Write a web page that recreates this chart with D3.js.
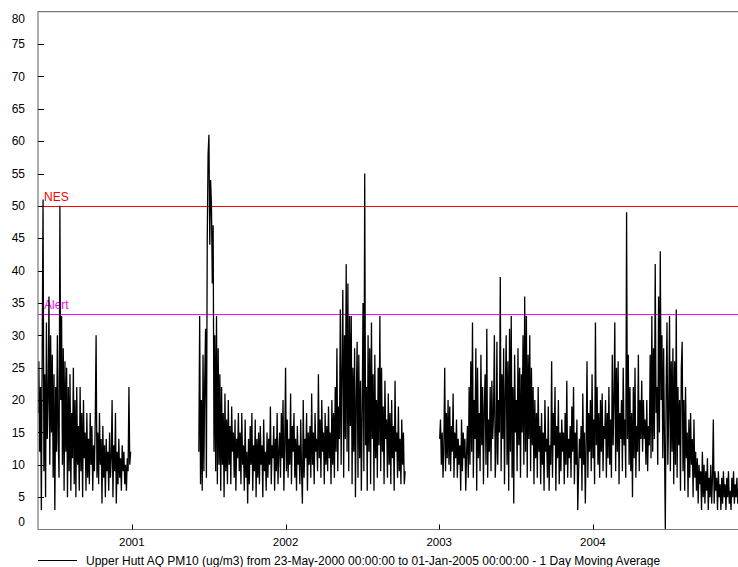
<!DOCTYPE html>
<html><head><meta charset="utf-8">
<script src="https://cdn.jsdelivr.net/npm/d3@7"></script>
<style>
html,body{margin:0;padding:0;background:#fff;}
svg{display:block;font-family:"Liberation Sans",Arial,sans-serif;}
</style></head>
<body>
<svg id="chart" width="738" height="567"></svg>
<script>
// ---- data (1 day moving average PM10, ug/m3, sampled every 2 days) ----
const stepDays = 2;
const seg1Start = "2000-05-23";
const seg1Values = [
 18,26,12,22,3,28,51,9,24,5,32,14,
 20,36,10,30,15,27,8,24,3,22,12,30,
 14,8,50,20,33,10,28,6,26,12,25,5,
 22,9,24,6,18,11,25,7,20,5,22,10,
 16,6,22,9,18,5,20,11,15,6,18,8,
 14,7,18,10,16,6,13,9,17,30,8,15,
 7,18,10,14,4,16,8,13,5,14,9,12,
 6,15,8,11,20,5,13,9,18,4,12,7,
 14,8,11,6,13,9,12,7,10,6,11,9,
 22,10,12
];
const seg2Start = "2001-06-09";
const seg2Values = [
 12,33,7,20,6,27,9,23,31,8,45,58,
 61,44,54,50,38,47,12,30,9,33,7,28,
 10,24,6,22,10,18,5,21,9,17,7,20,
 10,16,7,19,12,15,8,17,6,14,11,18,
 9,15,7,18,10,13,6,17,8,12,4,14,
 7,16,10,18,6,13,9,17,5,14,8,15,
 7,16,10,13,5,17,9,12,6,15,8,14,
 10,19,7,13,11,16,6,14,9,18,7,12,
 15,8,18,11,20,6,13,25,9,17,8,14,
 10,21,7,16,12,18,8,14,6,16,10,13,
 7,17,9,4,20,8,14,11,18,6,15,10,
 16,8,21,10,15,7,18,12,14,9,24,11,
 17,8,20,12,15,7,18,10,16,9,19,11,
 15,7,20,10,18,8,22,12,28,9,19,14,
 34,10,25,37,8,30,14,41,12,38,9,33,
 16,33,7,25,12,28,5,20,29,8,27,11,
 23,6,18,35,9,55,13,22,6,30,12,28,
 7,32,14,24,6,27,11,20,8,25,13,33,
 9,25,12,19,7,23,14,17,8,21,10,18,
 7,20,11,16,6,23,12,15,8,19,9,14,
 7,17,10,15,7,9
];
const seg3Start = "2003-01-02";
const seg3Values = [
 14,17,10,15,8,13,25,9,18,11,20,10,
 19,9,16,12,21,8,15,11,17,8,14,10,
 13,6,17,9,15,11,14,6,12,16,8,22,
 10,26,12,32,8,20,14,28,6,25,11,18,
 9,27,13,22,7,19,24,10,31,8,17,12,
 22,9,23,14,18,30,8,12,29,10,20,15,
 39,9,24,14,28,7,21,30,10,26,6,31,
 12,33,8,22,4,27,15,20,9,28,13,25,
 8,24,15,30,10,36,12,33,8,27,14,30,
 9,25,13,22,7,20,11,18,8,22,12,16,
 7,18,10,15,6,20,12,14,8,19,6,13,
 10,26,8,18,13,22,6,16,11,20,7,15,
 9,17,12,15,7,18,10,23,8,14,11,16,
 8,19,12,22,7,15,10,17,3,9,14,11,
 16,6,21,10,15,4,13,26,8,18,12,20,
 9,24,11,17,7,32,13,22,10,18,8,20,
 12,21,9,16,14,20,8,18,11,22,10,17,
 8,27,13,20,32,9,25,12,26,7,18,14,
 20,9,25,13,17,8,49,14,27,10,22,9,
 18,5,22,11,25,8,16,12,27,9,20,14,
 23,12,20,14,17,10,20,9,16,13,27,11,
 33,12,28,14,41,18,22,10,36,15,43,20,
 30,11,28,13,0,22,32,10,18,33,9,26,
 12,28,7,26,10,34,8,22,13,20,6,25,
 29,9,20,6,22,11,15,5,17,8,18,10,
 14,5,17,8,12,6,11,4,10,7,9,3,
 12,5,10,4,9,6,11,3,8,5,10,4,
 8,17,4,9,6,8,3,9,5,7,3,8,
 4,9,5,7,3,8,5,9,4,6,3,8,
 5,9,4,7,5,8,4,6,3,7,5,8,4
];
const yTicks = [0,5,10,15,20,25,30,35,40,45,50,55,60,65,70,75,80];
const xTickYears = ["2001","2002","2003","2004"];
const thresholds = [{label:"NES", value:50, color:"#ff0000"},{label:"Alert", value:33.3, color:"#ff00ff"}];
const domainStart = "2000-05-23", domainEnd = "2005-01-01";
const legendText = "Upper Hutt AQ PM10 (ug/m3) from 23-May-2000 00:00:00 to 01-Jan-2005 00:00:00 - 1 Day Moving Average";

// ---- build ----
const parse = d3.utcParse("%Y-%m-%d");
function toSeries(start, vals){
  const s = parse(start);
  return vals.map((v,i)=>({date:d3.utcDay.offset(s, i*stepDays), value:v}));
}
const segments = [toSeries(seg1Start,seg1Values), toSeries(seg2Start,seg2Values), toSeries(seg3Start,seg3Values)];

const svg = d3.select("#chart");
const L = 38, R = 747, T = 11.7, B = 529.5;
const x = d3.scaleUtc().domain([parse(domainStart), parse(domainEnd)]).range([L, R]);
const y = d3.scaleLinear().domain([0,80]).range([B, T]);

svg.append("defs").append("clipPath").attr("id","clip")
  .append("rect").attr("x",L).attr("y",T).attr("width",R-L).attr("height",B-T);

// threshold lines
const thr = svg.append("g").attr("class","thresholds");
thr.selectAll("line").data(thresholds).join("line")
  .attr("x1",L).attr("x2",R)
  .attr("y1",d=>Math.round(y(d.value))+0.5).attr("y2",d=>Math.round(y(d.value))+0.5)
  .style("stroke",d=>d.color).style("stroke-width","1.2px");

// data lines
const line = d3.line().x(d=>x(d.date)).y(d=>y(d.value));
svg.append("g").attr("clip-path","url(#clip)").selectAll("path").data(segments).join("path")
  .attr("d",line).attr("fill","none").attr("stroke","#000").attr("stroke-width",1.3)
  .attr("stroke-linejoin","miter").attr("stroke-miterlimit",2);

// threshold labels
thr.selectAll("text").data(thresholds).join("text")
  .attr("x",L+6).attr("y",d=>y(d.value)-5).text(d=>d.label)
  .style("fill",d=>d.color).attr("font-size",12);

// frame
svg.append("path").attr("d",`M${L},${B}V${T}H${R}V${B}Z`).attr("fill","none")
  .attr("stroke","#777").attr("stroke-width",1.2);

// y axis ticks
const yAxis = svg.append("g");
yAxis.selectAll("line").data(yTicks.filter(v=>v>0&&v<80)).join("line")
  .attr("x1",L).attr("x2",L+6).attr("y1",d=>Math.round(y(d))+0.5).attr("y2",d=>Math.round(y(d))+0.5)
  .attr("stroke","#000").attr("stroke-width",1);
yAxis.selectAll("text").data(yTicks).join("text")
  .attr("x",25).attr("y",d=>Math.max(19, Math.min(522, y(d))))
  .attr("dy","0.35em").attr("text-anchor","end").attr("font-size",12).attr("fill","#000")
  .text(d=>d);

// x axis ticks
const xAxis = svg.append("g");
const yearDates = xTickYears.map(s=>parse(s+"-01-01"));
xAxis.selectAll("line").data(yearDates).join("line")
  .attr("x1",d=>Math.round(x(d))+0.5).attr("x2",d=>Math.round(x(d))+0.5)
  .attr("y1",B).attr("y2",B-5).attr("stroke","#000").attr("stroke-width",1);
xAxis.selectAll("text").data(yearDates).join("text")
  .attr("x",d=>x(d)).attr("y",546).attr("text-anchor","middle").attr("font-size",11.5)
  .text(d=>d3.utcFormat("%Y")(d));

// legend
svg.append("line").attr("x1",38).attr("x2",77).attr("y1",560.5).attr("y2",560.5)
  .attr("stroke","#000").attr("stroke-width",1);
svg.append("text").attr("x",86).attr("y",565).attr("font-size",12).text(legendText);
</script>
</body></html>
